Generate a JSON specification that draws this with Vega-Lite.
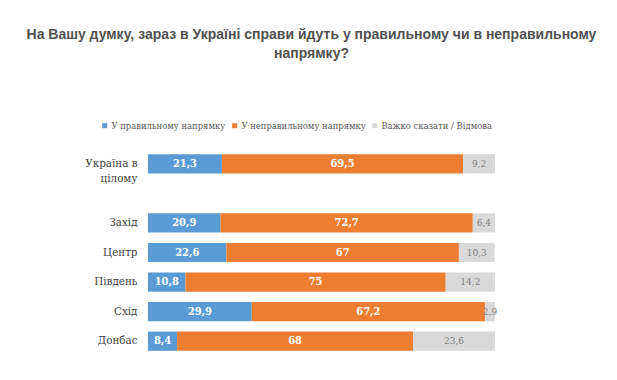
{
  "$schema": "https://vega.github.io/schema/vega-lite/v6.json",
  "autosize": {"type": "none"},
  "padding": {"left": 148, "top": 149, "right": 122, "bottom": 24},
  "width": 347,
  "height": 207,
  "background": "white",
  "config": {
    "view": {"stroke": null},
    "locale": {"number": {"decimal": ",", "thousands": " ", "grouping": [3], "currency": ["", ""]}}
  },
  "title": {
    "text": ["На Вашу думку, зараз в Україні справи йдуть у правильному чи в неправильному", "напрямку?"],
    "font": "Liberation Sans",
    "fontSize": 14,
    "fontWeight": "bold",
    "color": "#505050",
    "anchor": "middle",
    "frame": "group",
    "dx": -10,
    "offset": 60,
    "lineHeight": 19
  },
  "data": {
    "values": [
      {"region": "Україна в цілому", "category": "У правильному напрямку", "k": 1, "value": 21.3},
      {"region": "Україна в цілому", "category": "У неправильному напрямку", "k": 2, "value": 69.5},
      {"region": "Україна в цілому", "category": "Важко сказати / Відмова", "k": 3, "value": 9.2},
      {"region": "Захід", "category": "У правильному напрямку", "k": 1, "value": 20.9},
      {"region": "Захід", "category": "У неправильному напрямку", "k": 2, "value": 72.7},
      {"region": "Захід", "category": "Важко сказати / Відмова", "k": 3, "value": 6.4},
      {"region": "Центр", "category": "У правильному напрямку", "k": 1, "value": 22.6},
      {"region": "Центр", "category": "У неправильному напрямку", "k": 2, "value": 67},
      {"region": "Центр", "category": "Важко сказати / Відмова", "k": 3, "value": 10.3},
      {"region": "Південь", "category": "У правильному напрямку", "k": 1, "value": 10.8},
      {"region": "Південь", "category": "У неправильному напрямку", "k": 2, "value": 75},
      {"region": "Південь", "category": "Важко сказати / Відмова", "k": 3, "value": 14.2},
      {"region": "Схід", "category": "У правильному напрямку", "k": 1, "value": 29.9},
      {"region": "Схід", "category": "У неправильному напрямку", "k": 2, "value": 67.2},
      {"region": "Схід", "category": "Важко сказати / Відмова", "k": 3, "value": 2.9},
      {"region": "Донбас", "category": "У правильному напрямку", "k": 1, "value": 8.4},
      {"region": "Донбас", "category": "У неправильному напрямку", "k": 2, "value": 68},
      {"region": "Донбас", "category": "Важко сказати / Відмова", "k": 3, "value": 23.6}
    ]
  },
  "encoding": {
    "y": {
      "field": "region",
      "type": "nominal",
      "title": null,
      "scale": {
        "domain": ["Україна в цілому", " ", "Захід", "Центр", "Південь", "Схід", "Донбас"],
        "paddingInner": 0.35,
        "paddingOuter": 0.175
      },
      "axis": {
        "domain": false,
        "ticks": false,
        "labelFont": "DejaVu Serif Condensed",
        "labelFontSize": 11.5,
        "labelColor": "#404040",
        "labelPadding": 11,
        "labelLineHeight": 15,
        "labelExpr": "datum.value == 'Україна в цілому' ? ['Україна в', 'цілому'] : datum.value"
      }
    },
    "x": {
      "field": "value",
      "type": "quantitative",
      "stack": "zero",
      "scale": {"domain": [0, 100], "nice": false},
      "axis": null
    },
    "order": {"field": "k", "type": "quantitative"}
  },
  "layer": [
    {
      "mark": {"type": "bar"},
      "encoding": {
        "color": {
          "field": "category",
          "type": "nominal",
          "scale": {
            "domain": ["У правильному напрямку", "У неправильному напрямку", "Важко сказати / Відмова"],
            "range": ["#5B9BD5", "#ED7D31", "#D9D9D9"]
          },
          "legend": {
            "title": null,
            "orient": "none",
            "direction": "horizontal",
            "gridAlign": "none",
            "legendX": -48,
            "legendY": -28,
            "symbolType": "square",
            "symbolSize": 25,
            "symbolOffset": 0,
            "labelFont": "DejaVu Serif Condensed",
            "labelFontSize": 9.4,
            "labelColor": "#595959",
            "labelOffset": 2,
            "columnPadding": 4
          }
        }
      }
    },
    {
      "mark": {"type": "text", "font": "DejaVu Serif Condensed", "fontSize": 11, "fontWeight": "bold", "color": "white"},
      "encoding": {
        "x": {"field": "value", "type": "quantitative", "stack": "zero", "bandPosition": 0.5},
        "text": {"field": "value", "type": "quantitative", "format": "~r"},
        "opacity": {"condition": {"test": "datum.k == 3", "value": 0}, "value": 1}
      }
    },
    {
      "mark": {"type": "text", "font": "DejaVu Serif Condensed", "fontSize": 10, "color": "#7f7f7f"},
      "encoding": {
        "x": {"field": "value", "type": "quantitative", "stack": "zero", "bandPosition": 0.5},
        "text": {"field": "value", "type": "quantitative", "format": "~r"},
        "opacity": {"condition": {"test": "datum.k == 3", "value": 1}, "value": 0}
      }
    }
  ]
}
